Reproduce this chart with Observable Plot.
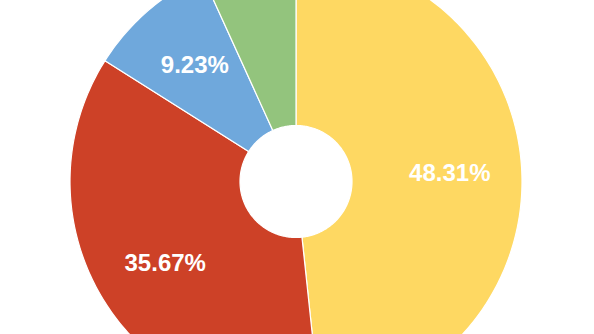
<!DOCTYPE html>
<html>
<head>
<meta charset="utf-8">
<script src="https://cdn.jsdelivr.net/npm/d3@7"></script>
<script src="https://cdn.jsdelivr.net/npm/@observablehq/plot@0.6"></script>
<style>
  html, body { margin: 0; padding: 0; background: #fff; }
  #chart svg { display: block; }
</style>
</head>
<body>
<div id="chart"></div>
<script>
const categories = ["Segment A", "Segment B", "Segment C", "Segment D"];
const shares = [48.31, 35.67, 9.23, 6.79];
const labels = ["48.31%", "35.67%", "9.23%", ""];
const colors = ["#FED862", "#CD4127", "#6FA8DC", "#93C47D"];

const W = 594, H = 334;
const Rpx = 226, cx = 295.5, cy = 181;
const innerR = 56 / Rpx;
const labelR = 154 / Rpx;

const pie = d3.pie().sort(null).value(d => d)(shares);

// polygon points for each slice in data units (outer radius = 1)
const pts = [];
pie.forEach((p, i) => {
  const n = Math.max(8, Math.ceil((p.endAngle - p.startAngle) * 60));
  for (let k = 0; k <= n; k++) {
    const a = p.startAngle + (p.endAngle - p.startAngle) * k / n;
    pts.push({cat: categories[i], x: Math.sin(a), y: Math.cos(a)});
  }
  for (let k = n; k >= 0; k--) {
    const a = p.startAngle + (p.endAngle - p.startAngle) * k / n;
    pts.push({cat: categories[i], x: innerR * Math.sin(a), y: innerR * Math.cos(a)});
  }
});

const labelData = pie.map((p, i) => {
  const a = (p.startAngle + p.endAngle) / 2;
  return {cat: categories[i], text: labels[i], x: labelR * Math.sin(a), y: labelR * Math.cos(a)};
}).filter(d => d.text);

const chart = Plot.plot({
  width: W,
  height: H,
  margin: 0,
  x: {domain: [-cx / Rpx, (W - cx) / Rpx], range: [0, W], axis: null},
  y: {domain: [-(H - cy) / Rpx, cy / Rpx], range: [H, 0], axis: null},
  color: {domain: categories, range: colors},
  style: {background: "#fff"},
  marks: [
    Plot.line(pts, {x: "x", y: "y", z: "cat", fill: {value: "cat", scale: "color"}, stroke: "#fff", strokeWidth: 1.2, curve: "linear-closed"}),
    Plot.text(labelData, {x: "x", y: "y", text: "text", fill: "#fff", fontSize: 24, fontWeight: "bold",
      fontFamily: "Liberation Sans, Arial, sans-serif"})
  ]
});
document.getElementById("chart").appendChild(chart);
</script>
</body>
</html>
